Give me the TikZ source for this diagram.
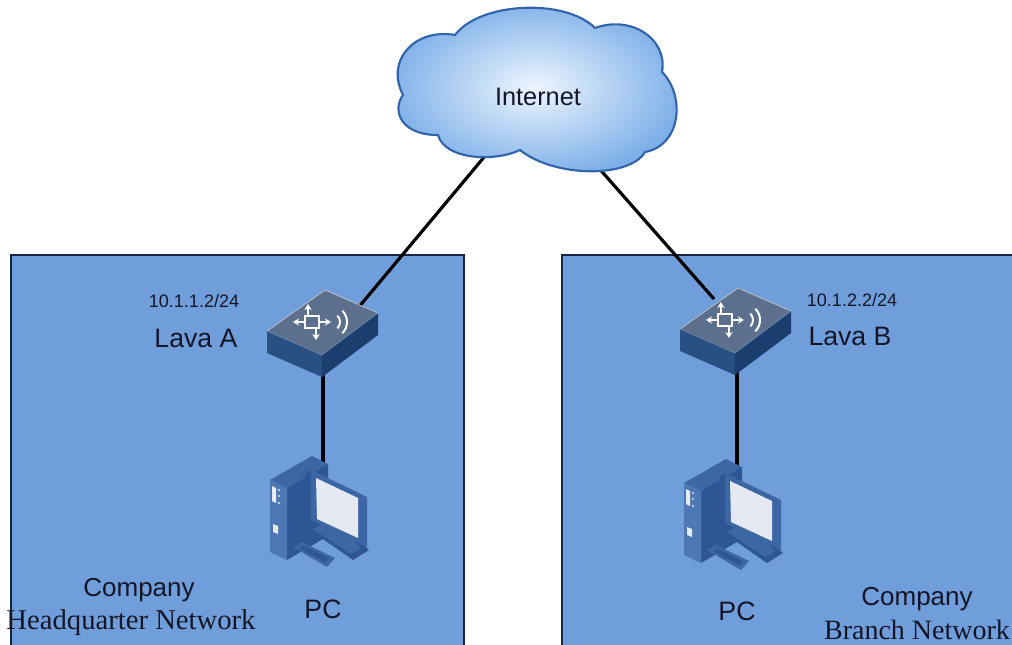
\documentclass[tikz,border=0pt]{standalone}
\usepackage{fontspec}
\setmainfont{Liberation Serif}
\setsansfont{Liberation Sans}
\usetikzlibrary{arrows.meta,calc}

\definecolor{lanfill}{RGB}{112,158,218}
\definecolor{lanedge}{RGB}{25,35,70}
\definecolor{swtop}{RGB}{92,112,142}
\definecolor{swleft}{RGB}{40,80,130}
\definecolor{swright}{RGB}{28,62,110}
\definecolor{pcdark}{RGB}{46,86,148}
\definecolor{pcmid}{RGB}{60,102,164}
\definecolor{pclight}{RGB}{78,120,180}
\definecolor{screen}{RGB}{228,233,243}
\definecolor{cloudin}{RGB}{238,246,255}
\definecolor{cloudout}{RGB}{125,175,232}
\definecolor{cloudedge}{RGB}{50,100,172}
\definecolor{ink}{RGB}{20,22,40}

\tikzset{
  lan/.style={fill=lanfill, draw=lanedge, line width=1.2pt},
  link/.style={draw=black, line width=2.4pt},
  sanslabel/.style={text=ink, font=\sffamily\fontsize{#1}{#1}\selectfont, inner sep=0pt},
  seriflabel/.style={text=ink, font=\rmfamily\fontsize{#1}{#1}\selectfont, inner sep=0pt},
  iconarrow/.style={white, line width=1.6pt, -{Stealth[length=4.5pt,width=5.5pt]}},
  % layer-3 switch seen from above, origin at the centre of its top face
  switchbox/.pic={
    \fill[swleft] (-56,9) -- (-1,33) -- (-1,55) -- (-56,31) -- cycle;
    \fill[swright] (-1,33) -- (55,-9) -- (55,13) -- (-1,55) -- cycle;
    \fill[swtop] (-56,9) -- (2,-32) -- (55,-9) -- (-1,33) -- cycle;
    \draw[white!55!swtop, line width=0.6pt] (-56,9) -- (2,-32) -- (55,-9);
    \draw[white!30!swleft, line width=0.5pt] (-56,9) -- (-1,33) -- (55,-9);
    % routing symbol
    \draw[white, line width=2pt] (-18,-6) rectangle (-4,6);
    \draw[iconarrow] (-18,0) -- (-30,0);
    \draw[iconarrow] (-4,0) -- (8,0);
    \draw[iconarrow] (-15,-6) -- (-15,-18);
    \draw[iconarrow] (-7,6) -- (-7,18);
    % radio waves
    \draw[white, line width=1.5pt] (8,0) ++(-45:9) arc[start angle=-45, end angle=45, radius=9];
    \draw[white, line width=1.5pt] (8,0) ++(-45:16) arc[start angle=-45, end angle=45, radius=16];
  },
  % desktop computer, origin where the cable enters the monitor
  desktop/.pic={
    % tower
    \fill[pcmid] (-53,20) -- (-11,-4) -- (5,4) -- (-36,28) -- cycle;
    \fill[pcdark] (-36,28) -- (5,4) -- (5,76) -- (-36,100) -- cycle;
    \fill[pclight] (-53,20) -- (-36,28) -- (-36,100) -- (-53,92) -- cycle;
    \fill[white!85!pclight] (-51,26) -- (-47,28) -- (-47,43) -- (-51,41) -- cycle;
    \fill[white!80!pclight] (-44,30) circle (1.2) (-44,36) circle (1.2) (-44,43) circle (1.2);
    \fill[white!85!pclight] (-50,64) -- (-45,66) -- (-45,74) -- (-50,72) -- cycle;
    % stand
    \fill[pcdark] (-16,68) -- (10,55) -- (46,90) -- (30,100) -- cycle;
    \fill[pcmid] (-10,69) -- (10,59) -- (38,88) -- (28,94) -- cycle;
    % monitor
    \fill[pcdark] (-17,13) -- (-12,10) -- (-12,60) -- (-17,63) -- cycle;
    \fill[pcmid] (-12,10) -- (44,37) -- (44,87) -- (-12,60) -- cycle;
    \fill[screen] (-7,18) -- (35,38) -- (35,78) -- (-6,59) -- cycle;
    % keyboard
    \fill[pcmid] (-30,87) -- (-21,82) -- (12,98) -- (4,107) -- cycle;
    \fill[pcdark] (-24,88) -- (-19,86) -- (6,98) -- (2,102) -- cycle;
  }
}

\begin{document}
\begin{tikzpicture}[x=0.75pt, y=-0.75pt]
\useasboundingbox (0,0) rectangle (1012,644);

% the two company networks
\path[lan] (11,255) rectangle (464,660);
\path[lan] (562,255) rectangle (1020,660);

% anchor points
\coordinate (cloudL) at (490,150);
\coordinate (cloudR) at (597,166);
\coordinate (swA) at (323,322);
\coordinate (swB) at (736,320);
\coordinate (swAup) at (358,308);
\coordinate (swBup) at (714,299);
\coordinate (swAdown) at (323,370);
\coordinate (swBdown) at (737,368);
\coordinate (pcA) at (323,460);
\coordinate (pcB) at (737,463);

% links
\draw[link] (cloudL) -- (swAup);
\draw[link] (cloudR) -- (swBup);
\draw[link] (swAdown) -- ($(pcA)+(0,20)$);
\draw[link] (swBdown) -- ($(pcB)+(0,20)$);

% internet cloud
\shade[inner color=cloudin, outer color=cloudout, draw=cloudedge, line width=1.6pt]
  (403,95) .. controls (385,60) and (415,28) .. (455,35)
  .. controls (480,2) and (565,-2) .. (595,28)
  .. controls (630,15) and (668,38) .. (662,72)
  .. controls (685,95) and (682,145) .. (645,152)
  .. controls (630,178) and (555,178) .. (520,150)
  .. controls (495,162) and (445,160) .. (438,135)
  .. controls (400,135) and (392,110) .. (403,95) -- cycle;
\node[sanslabel=19pt] (internet) at (538,97) {Internet};

% devices
\pic at (swA) {switchbox};
\pic at (swB) {switchbox};
\pic at (pcA) {desktop};
\pic at (pcB) {desktop};

% labels
\node[sanslabel=13.5pt] (ipA) at (194,301) {10.1.1.2/24};
\node[sanslabel=20pt] (nameA) at (196,338) {Lava A};
\node[sanslabel=13.5pt] (ipB) at (852,300) {10.1.2.2/24};
\node[sanslabel=20pt] (nameB) at (850,336) {Lava B};
\node[sanslabel=20pt] (pcAlabel) at (323,609) {PC};
\node[sanslabel=20pt] (pcBlabel) at (737,611) {PC};
\node[sanslabel=19.5pt] (compA) at (139,590) {Company};
\node[seriflabel=21.5pt] (hqA) at (131,623) {Headquarter Network};
\node[sanslabel=19.5pt] (compB) at (917,599) {Company};
\node[seriflabel=21pt] (brB) at (917,630) {Branch Network};
\end{tikzpicture}
\end{document}
